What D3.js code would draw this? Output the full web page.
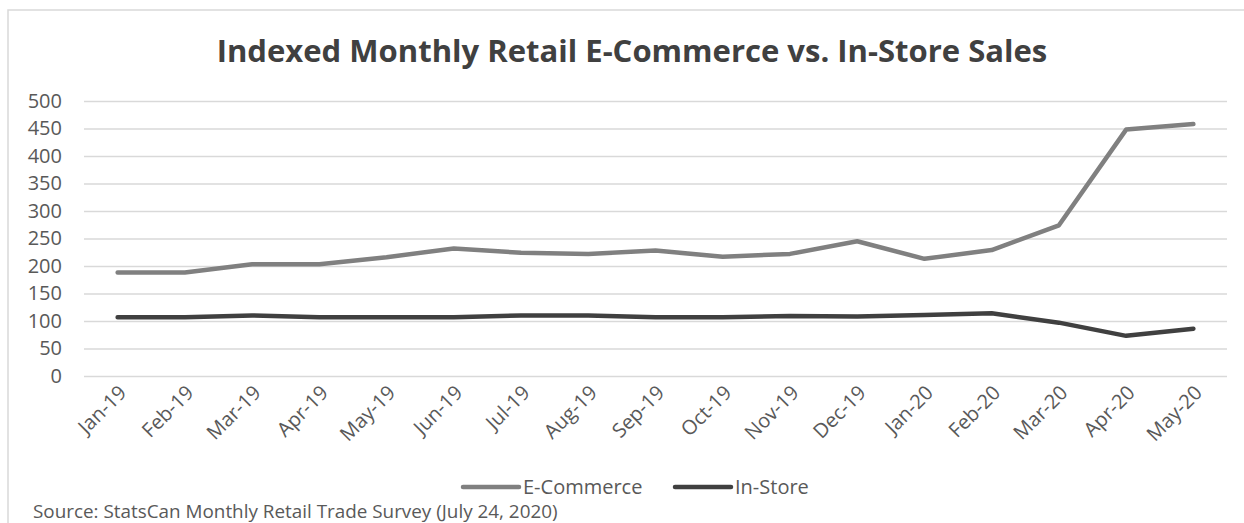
<!DOCTYPE html>
<html>
<head>
<meta charset="utf-8">
<script src="https://cdn.jsdelivr.net/npm/d3@7"></script>
<style>
  html, body { margin: 0; padding: 0; background: #fff; }
  svg { display: block; }
</style>
</head>
<body>
<svg id="chart" width="1244" height="523"></svg>
<script>
// Monthly index values (base period = 100)
const months = ["Jan-19","Feb-19","Mar-19","Apr-19","May-19","Jun-19","Jul-19","Aug-19",
                "Sep-19","Oct-19","Nov-19","Dec-19","Jan-20","Feb-20","Mar-20","Apr-20","May-20"];
const eCommerce = [188, 188, 203, 203, 216, 232, 224, 222, 228, 217, 222, 245, 213, 229, 274, 448, 458];
const inStore   = [107, 107, 110, 107, 107, 107, 110, 110, 107, 107, 109, 108, 111, 114, 97, 73, 86];
const yTicks = [0, 50, 100, 150, 200, 250, 300, 350, 400, 450, 500];

const seriesNames = ["E-Commerce", "In-Store"];
const seriesColors = ["#808080", "#404040"];

const FONT = "'Open Sans', sans-serif";
const svg = d3.select("#chart");
const W = 1244, H = 523;
const m = { left: 84, right: 17, top: 101, bottom: 147 };

// scale a text element's font size so it spans the given width
function fitWidth(sel, base, target) {
  const w = sel.node().getComputedTextLength();
  sel.attr("font-size", base * target / w);
}

// chart frame
svg.append("rect")
  .attr("x", 8).attr("y", 10)
  .attr("width", W + 20).attr("height", H + 20)
  .attr("fill", "#fff").attr("stroke", "#d9d9d9").attr("stroke-width", 1.5);

const x = d3.scaleBand().domain(months).range([m.left, W - m.right]);
const y = d3.scaleLinear().domain([0, 500]).range([H - m.bottom, m.top]);

// title
const title = svg.append("text")
  .attr("x", 632).attr("y", 62)
  .attr("text-anchor", "middle")
  .attr("font-family", FONT)
  .attr("font-weight", 700)
  .attr("font-size", 28)
  .attr("fill", "#404040")
  .text("Indexed Monthly Retail E-Commerce vs. In-Store Sales");
fitWidth(title, 28, 831);

// gridlines + y labels
const yAxis = d3.axisLeft(y).tickValues(yTicks).tickSize(-(W - m.right - m.left)).tickPadding(22);
const gy = svg.append("g").attr("transform", `translate(${m.left},0)`).call(yAxis);
gy.select(".domain").remove();
gy.selectAll(".tick line").attr("stroke", "#d9d9d9").attr("stroke-width", 1.5);
gy.selectAll(".tick text")
  .attr("font-family", FONT)
  .attr("font-size", 20)
  .attr("fill", "#595959");

// x labels, rotated
const xAxis = d3.axisBottom(x).tickSize(0).tickPadding(0);
const gx = svg.append("g").attr("transform", `translate(0,${H - m.bottom})`).call(xAxis);
gx.select(".domain").remove();
gx.selectAll(".tick text")
  .attr("font-family", FONT)
  .attr("font-size", 20)
  .attr("fill", "#595959")
  .attr("text-anchor", "end")
  .attr("dy", "0")
  .attr("transform", "translate(10,18) rotate(-45)");

// series lines
const line = d3.line().x((d, i) => x(months[i]) + x.bandwidth() / 2).y(d => y(d));
[eCommerce, inStore].forEach((vals, k) => {
  svg.append("path")
    .datum(vals)
    .attr("d", line)
    .attr("fill", "none")
    .attr("stroke", seriesColors[k])
    .attr("stroke-width", 4.5)
    .attr("stroke-linejoin", "round")
    .attr("stroke-linecap", "round");
});

// legend
const legendItems = [{ x: 463, name: seriesNames[0], c: seriesColors[0] },
                     { x: 675, name: seriesNames[1], c: seriesColors[1] }];
const lg = svg.append("g");
legendItems.forEach(it => {
  lg.append("line")
    .attr("x1", it.x).attr("x2", it.x + 56)
    .attr("y1", 487).attr("y2", 487)
    .attr("stroke", it.c).attr("stroke-width", 4.5).attr("stroke-linecap", "round");
  lg.append("text")
    .attr("x", it.x + 60).attr("y", 494)
    .attr("font-family", FONT)
    .attr("font-size", 20)
    .attr("fill", "#595959")
    .text(it.name);
});

// source note
const src = svg.append("text")
  .attr("x", 33).attr("y", 518)
  .attr("font-family", FONT)
  .attr("font-size", 16)
  .attr("fill", "#595959")
  .text("Source: StatsCan Monthly Retail Trade Survey (July 24, 2020)");
fitWidth(src, 16, 525);
</script>
</body>
</html>
